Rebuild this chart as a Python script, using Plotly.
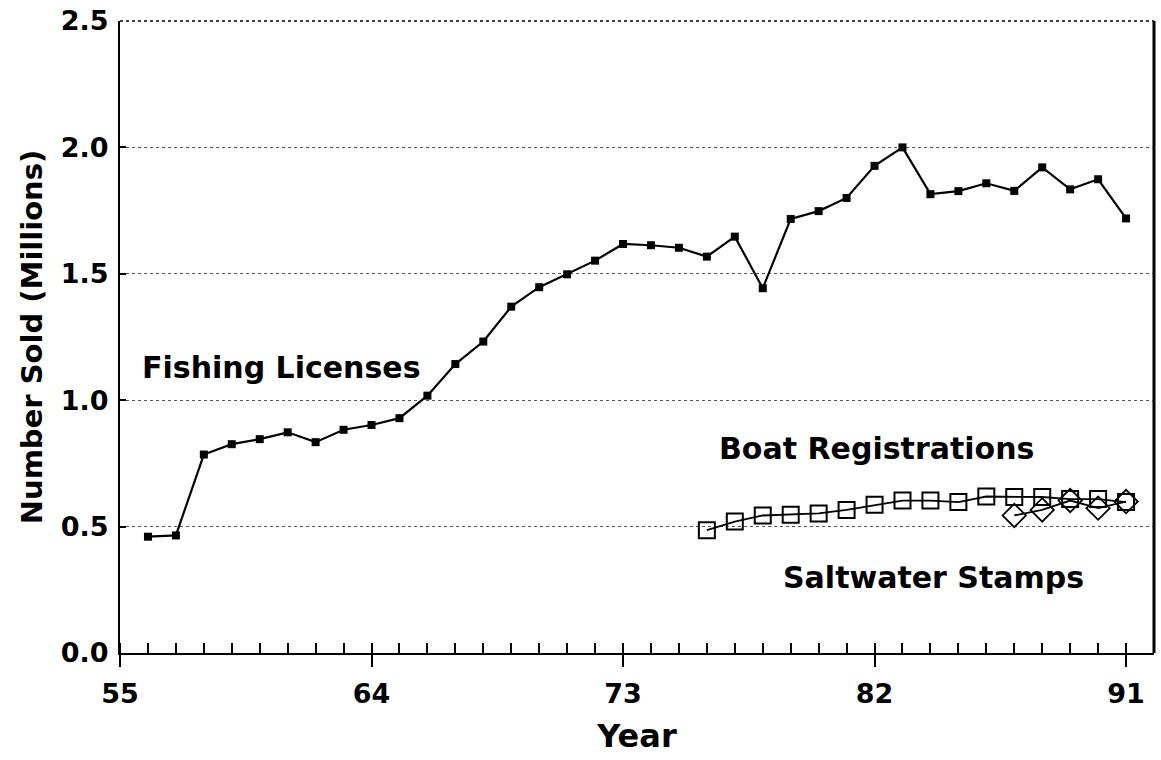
import plotly.graph_objects as go

# ---- data ----
fish_years = list(range(56, 92))
fish_values = [0.46, 0.465, 0.785, 0.826, 0.846, 0.873, 0.834, 0.883, 0.902, 0.929,
               1.018, 1.143, 1.232, 1.370, 1.447, 1.498, 1.552, 1.618, 1.613, 1.603,
               1.568, 1.647, 1.443, 1.717, 1.748, 1.800, 1.927, 2.000, 1.815, 1.827,
               1.858, 1.828, 1.921, 1.834, 1.874, 1.719]

boat_years = list(range(76, 92))
boat_values = [0.486, 0.520, 0.544, 0.547, 0.552, 0.566, 0.586, 0.603, 0.603, 0.597,
               0.619, 0.617, 0.617, 0.609, 0.609, 0.597]

stamp_years = [87, 88, 89, 90, 91]
stamp_values = [0.544, 0.566, 0.603, 0.573, 0.599]

x_ticks = [55, 64, 73, 82, 91]
x_tick_labels = ["55", "64", "73", "82", "91"]
y_ticks = [0.0, 0.5, 1.0, 1.5, 2.0, 2.5]
y_tick_labels = ["0.0", "0.5", "1.0", "1.5", "2.0", "2.5"]

labels = [
    ("Fishing Licenses", 60.78, 1.13),
    ("Boat Registrations", 82.07, 0.81),
    ("Saltwater Stamps", 84.1, 0.30),
]

FONT = "DejaVu Sans"

fig = go.Figure()

fig.add_trace(go.Scatter(
    x=fish_years, y=fish_values, mode="lines+markers",
    line=dict(color="black", width=2.2),
    marker=dict(symbol="square", size=8, color="black"),
    showlegend=False,
))
fig.add_trace(go.Scatter(
    x=boat_years, y=boat_values, mode="lines+markers",
    line=dict(color="black", width=1.8),
    marker=dict(symbol="square-open", size=16, color="black", line=dict(width=2)),
    showlegend=False,
))
fig.add_trace(go.Scatter(
    x=stamp_years, y=stamp_values, mode="lines+markers",
    line=dict(color="black", width=1.8),
    marker=dict(symbol="diamond-open", size=18, color="black", line=dict(width=1.8)),
    showlegend=False,
))

for text, lx, ly in labels:
    fig.add_annotation(
        x=lx, y=ly, xref="x", yref="y", text=text, showarrow=False,
        font=dict(family=FONT, size=30, color="black", weight="bold"),
    )

# right border (thick) and top border (thin)
fig.add_shape(type="line", xref="paper", yref="paper", x0=1, x1=1, y0=0, y1=1,
              line=dict(color="black", width=3))
fig.add_shape(type="line", xref="paper", yref="paper", x0=0, x1=1, y0=1, y1=1,
              line=dict(color="black", width=1.5, dash="dot"))

fig.update_xaxes(
    range=[55, 92], tickvals=x_ticks, ticktext=x_tick_labels,
    showline=True, linecolor="black", linewidth=2,
    ticks="outside", ticklen=12, tickwidth=2, tickcolor="black",
    minor=dict(ticks="inside", dtick=1, tick0=55, ticklen=10, tickwidth=1.5,
               tickcolor="black", showgrid=False),
    showgrid=False, zeroline=False, automargin=False,
    tickfont=dict(family=FONT, size=27, color="black", weight="bold"),
    ticklabelstandoff=4, ticklabeloverflow="allow",
    title=dict(text="Year", font=dict(family=FONT, size=32, color="black", weight="bold"),
               standoff=16),
)
fig.update_yaxes(
    range=[0, 2.5], tickvals=y_ticks, ticktext=y_tick_labels,
    showline=True, linecolor="black", linewidth=2,
    ticks="inside", ticklen=6, tickwidth=1.5, tickcolor="black",
    showgrid=True, gridcolor="#555555", gridwidth=1, griddash="dot",
    zeroline=False, automargin=False,
    tickfont=dict(family=FONT, size=27, color="black", weight="bold"),
    ticklabelstandoff=4, ticklabeloverflow="allow",
    title=dict(text="Number Sold (Millions)",
               font=dict(family=FONT, size=29, color="black", weight="bold"),
               standoff=10),
)

fig.update_layout(
    width=1161, height=760,
    margin=dict(l=120, r=7, t=21, b=107, autoexpand=False),
    paper_bgcolor="white", plot_bgcolor="white",
)

# remove the browser's default 8px body margin so the figure fills the window
fig.write_html("out.html", config={"displayModeBar": False},
               post_script="document.body.style.margin='0px';")
